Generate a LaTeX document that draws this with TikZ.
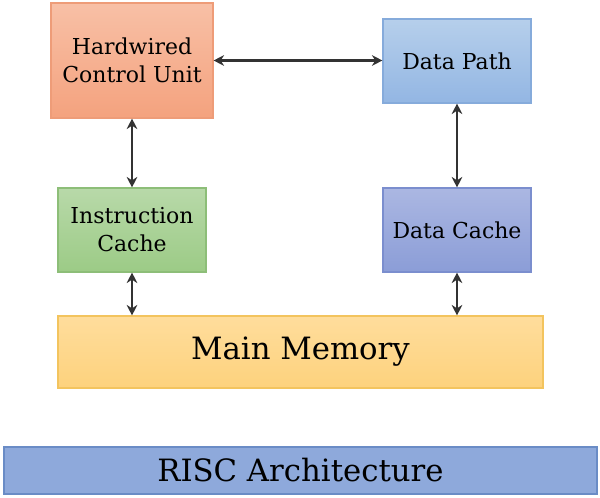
\documentclass[tikz,border=0pt]{standalone}
\usepackage{fontspec}
\setmainfont{DejaVu Serif}
\usetikzlibrary{arrows.meta}

\definecolor{hcutop}{HTML}{F8C0A6}
\definecolor{hcubot}{HTML}{F4A27E}
\definecolor{hculine}{HTML}{EE9C78}
\definecolor{dptop}{HTML}{B6CFEB}
\definecolor{dpbot}{HTML}{93B6E3}
\definecolor{dpline}{HTML}{86ABDB}
\definecolor{ictop}{HTML}{B8D9A9}
\definecolor{icbot}{HTML}{9CCB86}
\definecolor{icline}{HTML}{8DBE78}
\definecolor{dctop}{HTML}{ABB7E2}
\definecolor{dcbot}{HTML}{8B9DD7}
\definecolor{dcline}{HTML}{7B8ECE}
\definecolor{mmtop}{HTML}{FFDD9C}
\definecolor{mmbot}{HTML}{FDD27D}
\definecolor{mmline}{HTML}{F3C45E}
\definecolor{riscfill}{HTML}{8EA9DB}
\definecolor{riscline}{HTML}{6A8CC6}
\definecolor{arrowgray}{HTML}{333333}

\begin{document}
\begin{tikzpicture}[
    unit/.style={draw, line width=0.6pt, align=center, inner sep=0pt,
                 font=\fontsize{12.5}{16}\selectfont},
    link/.style={arrowgray, line width=1.4pt, {Stealth[length=6pt,width=6pt]}-{Stealth[length=6pt,width=6pt]}}
  ]
  \useasboundingbox (0,0) rectangle (12,-9.96);

  % Control and data path
  \node[unit, hculine, top color=hcutop, bottom color=hcubot, text=black,
        minimum width=3.24cm, minimum height=2.30cm] (hcu) at (2.64,-1.21) {Hardwired\\Control Unit};
  \node[unit, dpline, top color=dptop, bottom color=dpbot, text=black,
        minimum width=2.96cm, minimum height=1.68cm] (dp) at (9.14,-1.22) {Data Path};

  % Caches
  \node[unit, icline, top color=ictop, bottom color=icbot, text=black,
        minimum width=2.96cm, minimum height=1.68cm] (ic) at (2.64,-4.60) {Instruction\\Cache};
  \node[unit, dcline, top color=dctop, bottom color=dcbot, text=black,
        minimum width=2.96cm, minimum height=1.68cm] (dc) at (9.14,-4.60) {Data Cache};

  % Memory
  \node[unit, mmline, top color=mmtop, bottom color=mmbot, text=black,
        minimum width=9.70cm, minimum height=1.44cm,
        font=\fontsize{17.5}{20}\selectfont] (mm) at (6.01,-7.04) {Main Memory};

  % Title bar
  \node[unit, riscline, fill=riscfill, text=black,
        minimum width=11.86cm, minimum height=0.94cm,
        font=\fontsize{17.5}{20}\selectfont] (risc) at (6.01,-9.41) {RISC Architecture};

  % Connections
  \draw[link] (hcu.east) -- (hcu.east -| dp.west);
  \draw[link] (hcu.south) -- (ic.north);
  \draw[link] (dp.south) -- (dc.north);
  \draw[link] (ic.south) -- (ic.south |- mm.north);
  \draw[link] (dc.south) -- (dc.south |- mm.north);
\end{tikzpicture}
\end{document}
